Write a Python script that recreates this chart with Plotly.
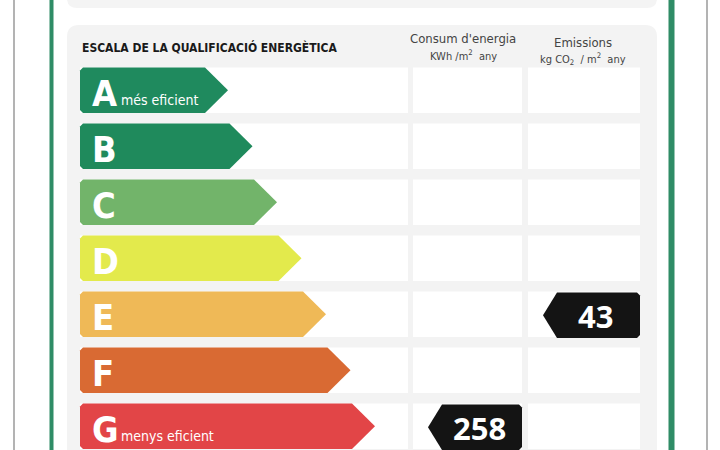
import plotly.graph_objects as go

# ---- data ----
ratings = ["A", "B", "C", "D", "E", "F", "G"]
rating_notes = ["més eficient", "", "", "", "", "", "menys eficient"]
rating_colors = ["#1f8a5e", "#1f8a5c", "#72b46a", "#e3ea4c", "#efb957", "#d96a33", "#e24547"]
title_text = "ESCALA DE LA QUALIFICACIÓ ENERGÈTICA"
col_titles = ["Consum d'energia", "Emissions"]
col_units = ["KWh /m<sup>2</sup>  any", "kg CO<sub>2</sub>  / m<sup>2</sup>  any"]
consumption_rating = "G"
consumption_value = 258
emissions_rating = "E"
emissions_value = 43

# ---- layout geometry (pixel-like coordinates) ----
ROW_TOP = 67.5
ROW_PITCH = 56
ROW_H = 45.5
ARROW_X0 = 80
ARROW_END0 = 205
ARROW_STEP = 24.5
TIP = 23
COL_BOX = [(413, 522), (528, 640)]
IND_TIP = 14

NARROW = "DejaVu Sans Condensed, Liberation Sans Narrow, sans-serif"

fig = go.Figure()
shapes = []
annotations = []


def rrect(x0, y0, x1, y1, r):
    return (f"M {x0+r},{y0} L {x1-r},{y0} Q {x1},{y0} {x1},{y0+r} L {x1},{y1-r} "
            f"Q {x1},{y1} {x1-r},{y1} L {x0+r},{y1} Q {x0},{y1} {x0},{y1-r} "
            f"L {x0},{y0+r} Q {x0},{y0} {x0+r},{y0} Z")


# outer frame lines
shapes.append(dict(type="line", x0=14, x1=14, y0=-5, y1=460, line=dict(color="#9a9a9a", width=1.5)))
shapes.append(dict(type="line", x0=707, x1=707, y0=-5, y1=460, line=dict(color="#9a9a9a", width=1.5)))
shapes.append(dict(type="rect", x0=49.5, x1=53.5, y0=-5, y1=460, line=dict(width=0), fillcolor="#2f8c66"))
shapes.append(dict(type="rect", x0=668.5, x1=674.5, y0=-5, y1=460, line=dict(width=0), fillcolor="#2f8c66"))
# top panel remnant and main panel
shapes.append(dict(type="path", path=rrect(67, -30, 657, 8, 10), fillcolor="#f4f4f4", line=dict(width=0), layer="below"))
shapes.append(dict(type="path", path=rrect(67, 25, 657, 480, 12), fillcolor="#f3f3f3", line=dict(width=0), layer="below"))

for i, r in enumerate(ratings):
    y0 = ROW_TOP + i * ROW_PITCH
    y1 = y0 + ROW_H
    yc = (y0 + y1) / 2
    # white row backgrounds
    shapes.append(dict(type="rect", x0=ARROW_X0, x1=408, y0=y0, y1=y1, fillcolor="white", line=dict(width=0), layer="below"))
    for (cx0, cx1) in COL_BOX:
        shapes.append(dict(type="rect", x0=cx0, x1=cx1, y0=y0, y1=y1, fillcolor="white", line=dict(width=0), layer="below"))
    # arrow
    end = ARROW_END0 + i * ARROW_STEP
    rr = 3
    xs = [ARROW_X0 + rr, end, end + TIP, end, ARROW_X0 + rr, ARROW_X0, ARROW_X0, ARROW_X0 + rr]
    ys = [y0, y0, yc, y1, y1, y1 - rr, y0 + rr, y0]
    fig.add_trace(go.Scatter(x=xs, y=ys, fill="toself", fillcolor=rating_colors[i], mode="lines",
                             line=dict(width=0, color=rating_colors[i]), hoverinfo="skip", showlegend=False))
    annotations.append(dict(x=90, y=yc + 3, text=f"<b>{r}</b>", showarrow=False, xanchor="left", yanchor="middle",
                            font=dict(family=NARROW, size=36, color="white")))
    if rating_notes[i]:
        annotations.append(dict(x=119, y=yc + 10, text=rating_notes[i], showarrow=False, xanchor="left",
                                yanchor="middle", font=dict(family=NARROW, size=14, color="white")))


def indicator(col, rating, value):
    i = ratings.index(rating)
    y0 = ROW_TOP + i * ROW_PITCH + 1
    y1 = y0 + ROW_H
    yc = (y0 + y1) / 2
    cx0, cx1 = COL_BOX[col]
    bx0 = cx0 + 29
    bx1 = cx1
    rr = 3
    xs = [bx0, bx1 - rr, bx1, bx1, bx1 - rr, bx0, bx0 - IND_TIP, bx0]
    ys = [y0, y0, y0 + rr, y1 - rr, y1, y1, yc, y0]
    fig.add_trace(go.Scatter(x=xs, y=ys, fill="toself", fillcolor="#141414", mode="lines",
                             line=dict(width=0, color="#141414"), hoverinfo="skip", showlegend=False))
    annotations.append(dict(x=(bx0 + bx1) / 2 - 3, y=yc + 1, text=f"<b>{value}</b>", showarrow=False,
                            xanchor="center", yanchor="middle",
                            font=dict(family="Open Sans, DejaVu Sans, sans-serif", size=31, color="white")))


indicator(0, consumption_rating, consumption_value)
indicator(1, emissions_rating, emissions_value)

# titles
annotations.append(dict(x=80, y=47, text=f"<b>{title_text}</b>", showarrow=False, xanchor="left", yanchor="middle",
                        font=dict(family=NARROW, size=12, color="#1a1a1a")))
header_x = [463, 583]
header_y = [38, 42]
for k in range(2):
    annotations.append(dict(x=header_x[k], y=header_y[k], text=col_titles[k], showarrow=False, xanchor="center",
                            yanchor="middle", font=dict(family=NARROW, size=13, color="#444444")))
    annotations.append(dict(x=header_x[k], y=header_y[k] + 17, text=col_units[k], showarrow=False, xanchor="center",
                            yanchor="middle", font=dict(family=NARROW, size=11, color="#444444")))

fig.update_layout(
    width=720, height=450, margin=dict(l=0, r=0, t=0, b=0),
    paper_bgcolor="white", plot_bgcolor="white",
    xaxis=dict(range=[0, 720], visible=False, fixedrange=True),
    yaxis=dict(range=[450, 0], visible=False, fixedrange=True),
    shapes=shapes, annotations=annotations, showlegend=False,
)
fig.write_html("out.html", config={"displayModeBar": False},
               post_script="document.body.style.margin='0';document.body.style.overflow='hidden';")
